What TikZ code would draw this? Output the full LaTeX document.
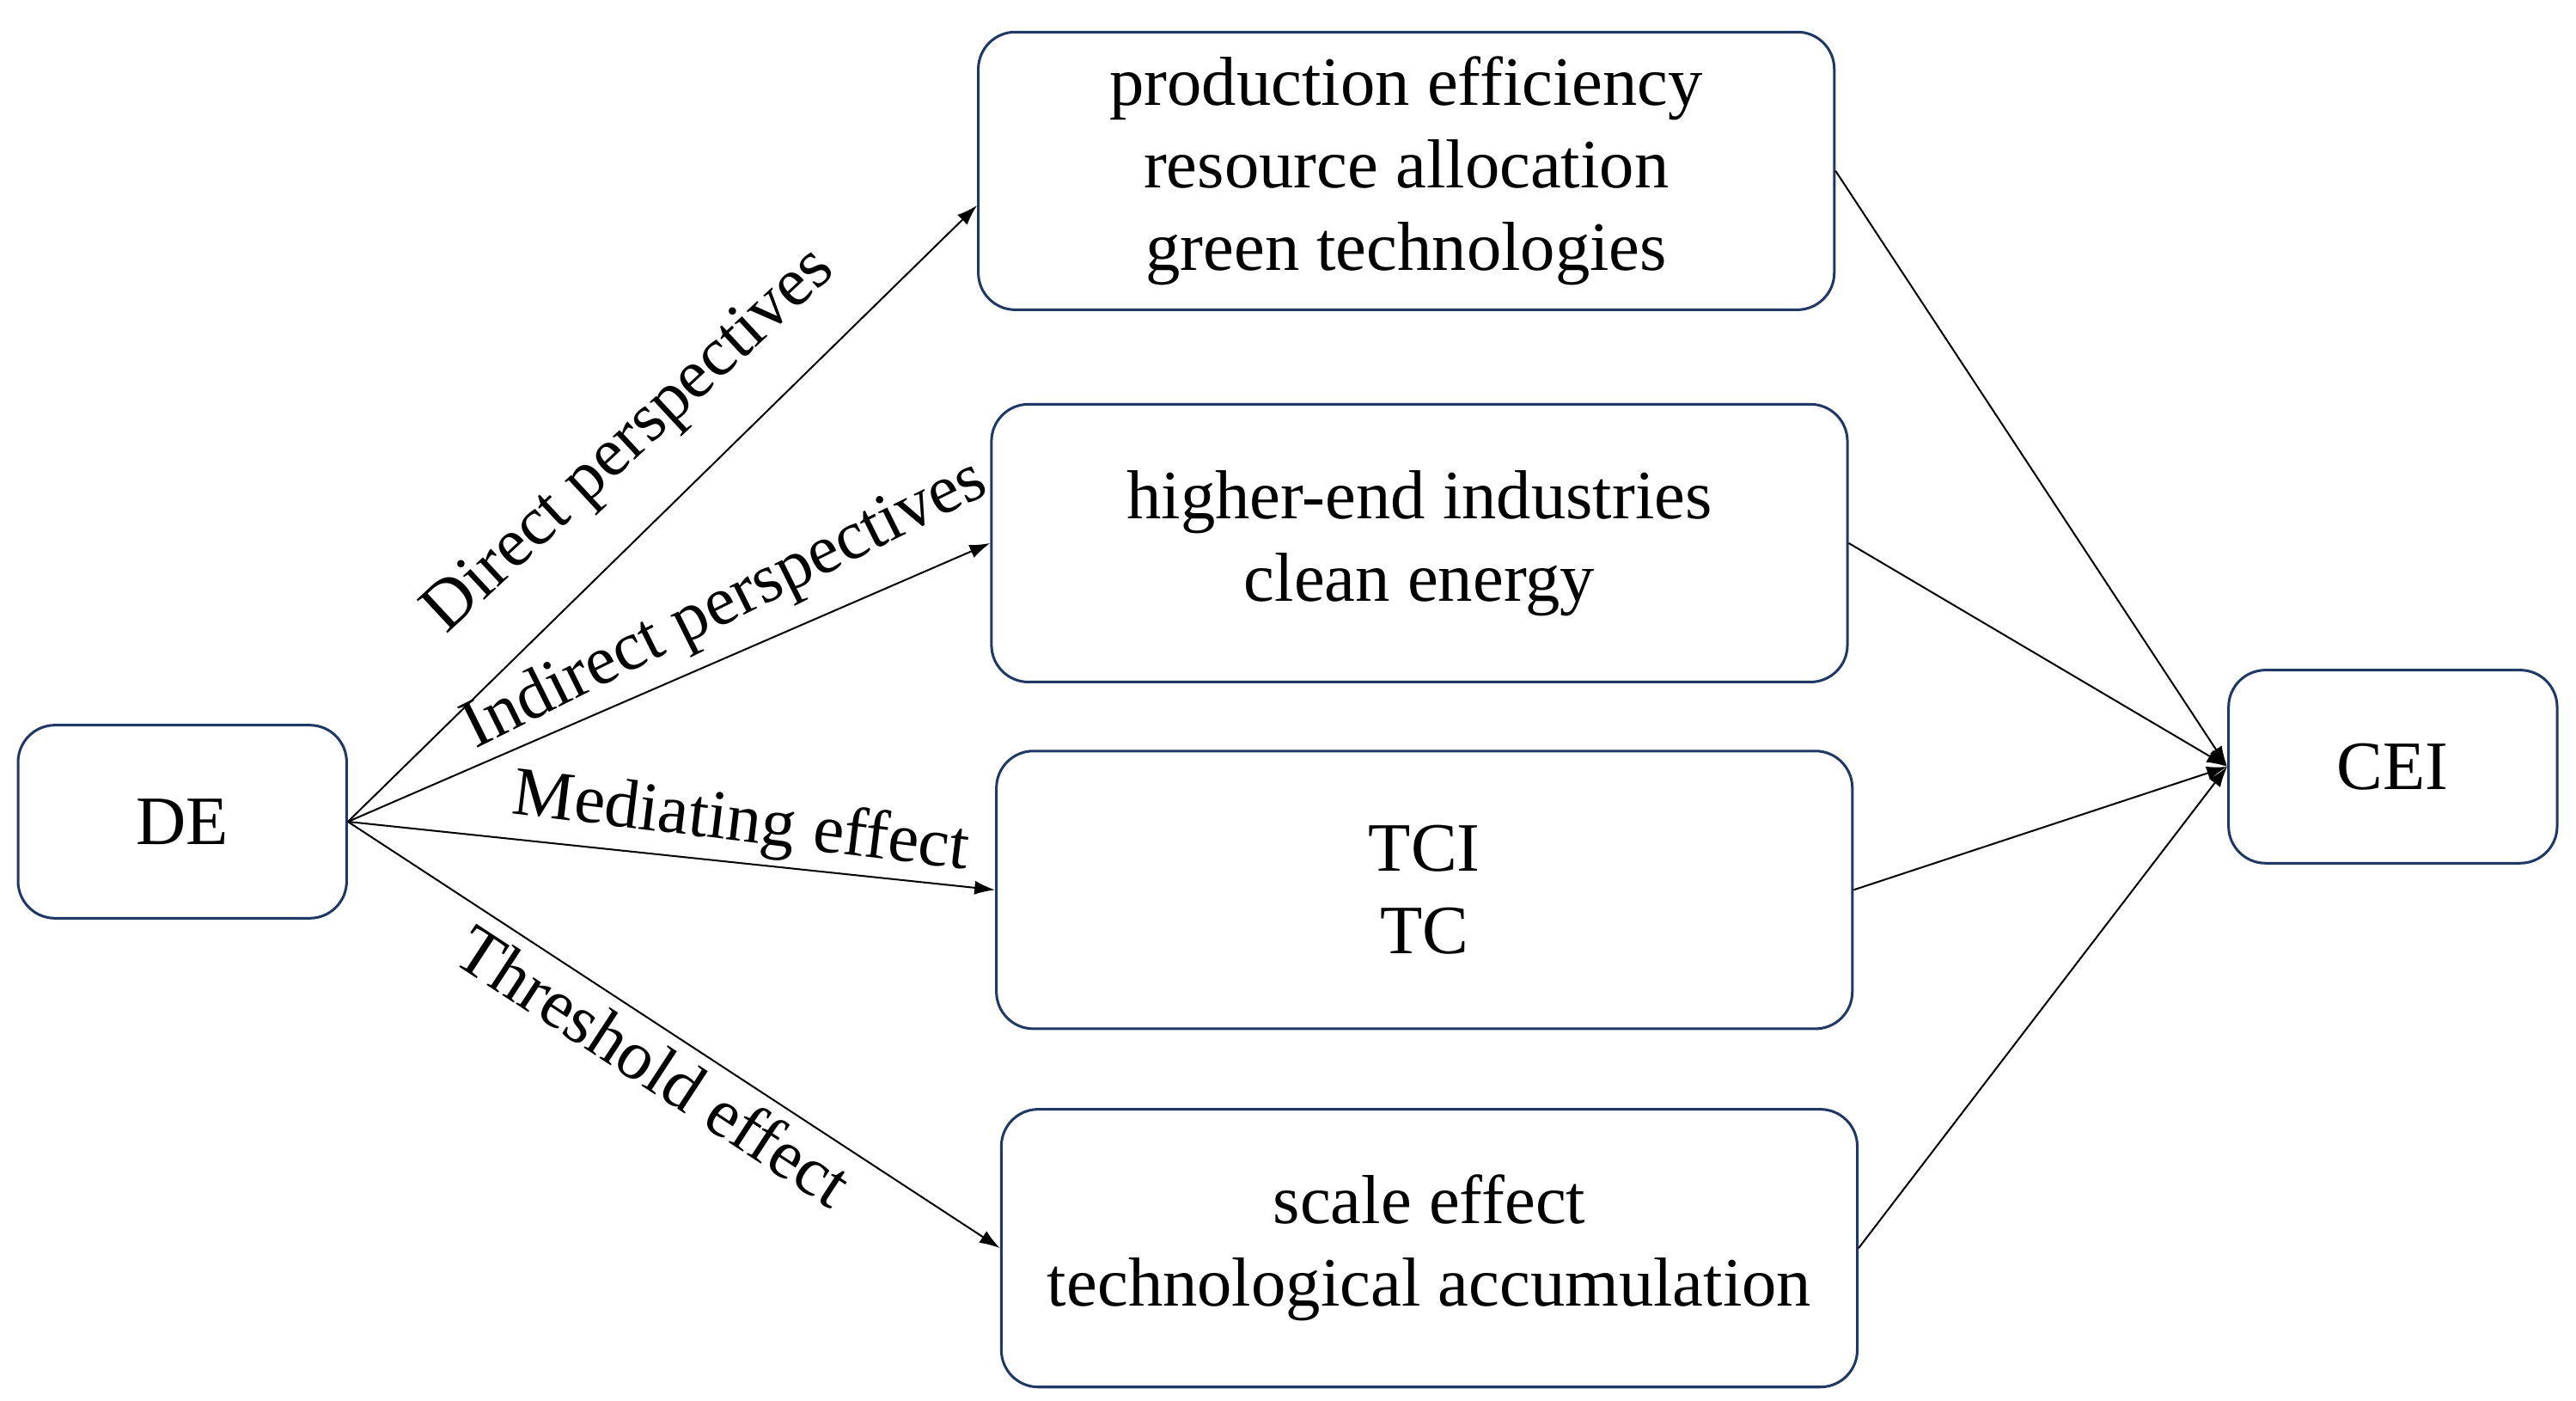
\documentclass[tikz,border=0pt]{standalone}
\usepackage{fontspec}
\setmainfont{Liberation Serif}
\usetikzlibrary{arrows.meta}
\definecolor{navy}{RGB}{31,56,100}

\begin{document}
\begin{tikzpicture}[box/.style={draw=navy, line width=0.9pt, rounded corners=0.45cm, align=center, inner sep=0pt, minimum width=10.42cm, minimum height=3.38cm, font=\fontsize{24}{28.5}\selectfont}, sbox/.style={box, minimum width=4cm, minimum height=2.35cm}, lab/.style={font=\fontsize{24}{28.5}\selectfont, inner sep=0pt}, arr/.style={-{Latex[length=0.25cm, width=0.17cm]}, line width=0.6pt}]

\useasboundingbox (0,0) rectangle (31.36,17.05);

\node[sbox] (de) at (2.22, 7.05) {DE};
\node[box] (pe) at (17.12, 14.97) {production efficiency\\resource allocation\\green technologies};
\node[box] (he) at (17.28, 10.44) {higher-end industries\\clean energy};
\node[box] (tci) at (17.34, 6.22) {TCI\\TC};
\node[box] (se) at (17.40, 1.86) {scale effect\\technological accumulation};
\node[sbox] (cei) at (29.13, 7.72) {CEI};

\draw[arr] (de.east) -- node[lab, sloped, pos=0.53, above=0.51cm, rotate=-1.5] {Direct perspectives} ([yshift=-0.42cm]pe.west);
\draw[arr] (de.east) -- node[lab, sloped, pos=0.62, above=0.19cm, rotate=3] {Indirect perspectives} (he.west);
\draw[arr] (de.east) -- node[lab, sloped, pos=0.60, above=0.07cm, rotate=-1] {Mediating effect} (tci.west);
\draw[arr] (de.east) -- node[lab, sloped, pos=0.50, below=0.13cm] {Threshold effect} (se.west);

\draw[arr] (pe.east) -- (cei.west);
\draw[arr] (he.east) -- (cei.west);
\draw[arr] (tci.east) -- (cei.west);
\draw[arr] (se.east) -- (cei.west);
\end{tikzpicture}
\end{document}
